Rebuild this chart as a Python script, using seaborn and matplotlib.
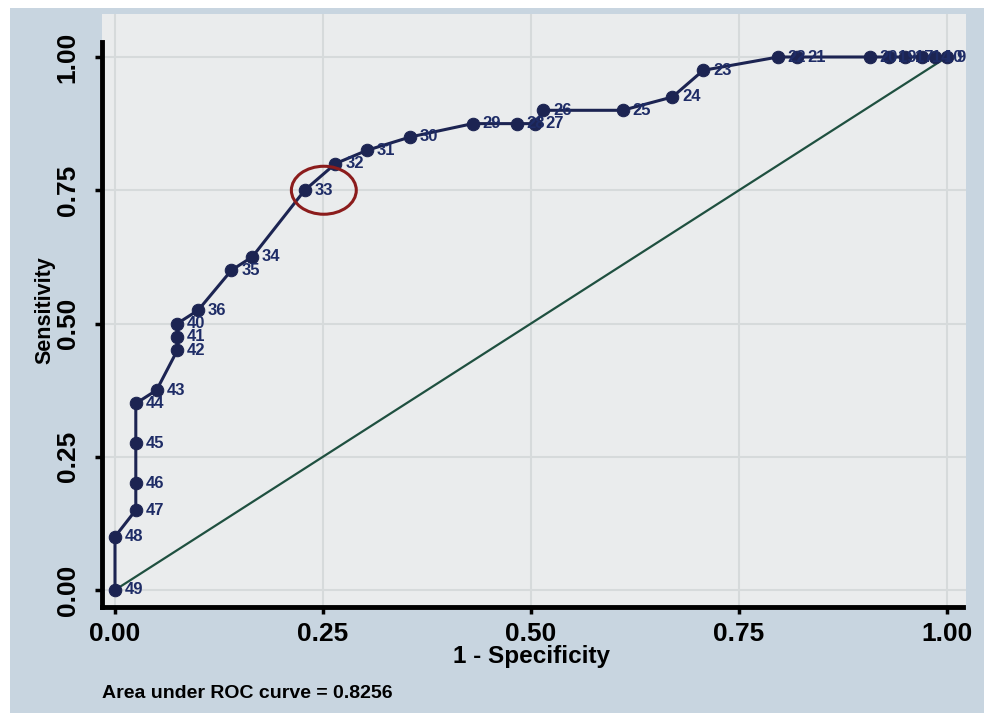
from matplotlib import pyplot as plt
from matplotlib import font_manager
from matplotlib.patches import Ellipse, Rectangle
import pandas as pd
import seaborn as sns

# cut points and ROC coordinates
cut = [49, 48, 47, 46, 45, 44, 43, 42, 41, 40, 36, 35, 34, 33, 32, 31,
       30, 29, 28, 27, 26, 25, 24, 23, 22, 21, 20, 19, 17, 14, 10, 9]
fpr = [0, 0, 0.025, 0.025, 0.025, 0.025, 0.05, 0.075, 0.075, 0.075, 0.10,
       0.14, 0.165, 0.228, 0.265, 0.303, 0.355, 0.43, 0.483, 0.505, 0.515,
       0.61, 0.67, 0.707, 0.797, 0.82, 0.907, 0.93, 0.95, 0.97, 0.985, 1.0]
tpr = [0, 0.10, 0.15, 0.20, 0.275, 0.35, 0.375, 0.45, 0.475, 0.50, 0.525,
       0.60, 0.625, 0.75, 0.80, 0.825, 0.85, 0.875, 0.875, 0.875, 0.90,
       0.90, 0.925, 0.975, 1, 1, 1, 1, 1, 1, 1, 1]
ticks = [0, 0.25, 0.5, 0.75, 1.0]
tick_labels = ['0.00', '0.25', '0.50', '0.75', '1.00']
highlight = 33
auc_text = 'Area under ROC curve = 0.8256'

df = pd.DataFrame({'cut': cut, 'fpr': fpr, 'tpr': tpr})

sns.set_style('white')
names = {f.name for f in font_manager.fontManager.ttflist}
font = 'Liberation Sans Narrow' if 'Liberation Sans Narrow' in names else 'Liberation Sans'
plt.rcParams['font.family'] = [font, 'DejaVu Sans']
plt.rcParams['font.weight'] = 'bold'
plt.rcParams['text.color'] = 'black'
plt.rcParams['axes.labelcolor'] = 'black'
plt.rcParams['xtick.color'] = 'black'
plt.rcParams['ytick.color'] = 'black'

navy = '#1c2452'
fig = plt.figure(figsize=(9.84, 7.13), dpi=100)
fig.patch.set_facecolor('white')
# graph region
fig.patches.append(Rectangle((10 / 984, 0), 974 / 984, 705 / 713,
                             transform=fig.transFigure, fc='#c8d5e0', ec='none', zorder=-5))

ax = fig.add_axes([102 / 984, 106 / 713, 864 / 984, 593 / 713])
ax.set_zorder(1)
ax.set_facecolor('#eaeced')
ax.set_xlim(-13 / 832, 851 / 832)
ax.set_ylim(-17 / 533, 576 / 533)

ax.set_xticks(ticks)
ax.set_xticklabels(tick_labels)
ax.set_yticks(ticks)
ax.set_yticklabels(tick_labels, rotation=90, va='center')
ax.grid(True, color='#d6dadb', lw=1.5)
ax.set_axisbelow(True)

# diagonal reference
sns.lineplot(x=[0, 1], y=[0, 1], color='#1f5040', lw=1.6, ax=ax)

# ROC curve
sns.lineplot(data=df, x='fpr', y='tpr', estimator=None, sort=False,
             color=navy, lw=2.2, marker='o', markersize=9,
             markeredgecolor=navy, markerfacecolor=navy, ax=ax)

for c, x, y in zip(cut, fpr, tpr):
    ax.annotate(str(c), (x, y), xytext=(7, 0), textcoords='offset points',
                va='center', ha='left', fontsize=12, color='#1e2c66')

row = df[df['cut'] == highlight].iloc[0]
ax.add_patch(Ellipse((row['fpr'] + 0.023, row['tpr']), 0.078, 0.09,
                     fill=False, ec='#8b1c1c', lw=2.2, zorder=5))

for side in ['top', 'right']:
    ax.spines[side].set_visible(False)
for side in ['left', 'bottom']:
    ax.spines[side].set_linewidth(3.5)
    ax.spines[side].set_color('black')
ax.spines['left'].set_bounds(-17 / 533, 548 / 533)
ax.spines['bottom'].set_bounds(-13 / 832, 848 / 832)
ax.tick_params(axis='both', direction='out', length=5, width=2.5,
               labelsize=19, color='black', labelcolor='black',
               bottom=True, left=True)
ax.tick_params(axis='x', pad=6)
ax.tick_params(axis='y', pad=11)

ax.set_xlabel('1 - Specificity', fontsize=17.5, fontweight='bold', color='black')
ax.xaxis.set_label_coords(0.497, -0.064)
ax.set_ylabel('Sensitivity', fontsize=15.5, fontweight='bold', color='black')
ax.yaxis.set_label_coords(-0.054, 0.5)

fig.text(102 / 984, 20 / 713, auc_text, fontsize=14, fontweight='bold',
         va='center', ha='left', color='black')

fig.savefig('out.png', dpi=100, facecolor=fig.get_facecolor())
